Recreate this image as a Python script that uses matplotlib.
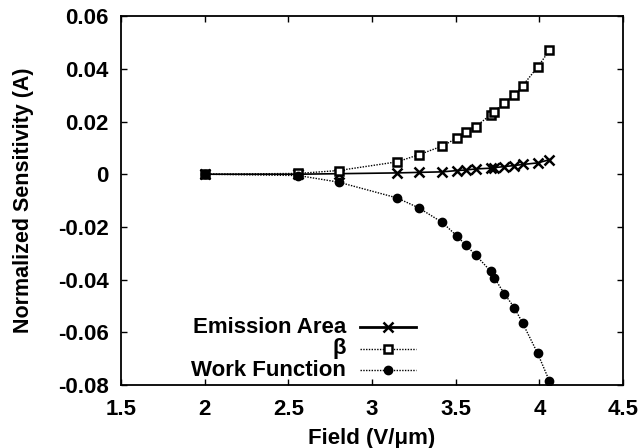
import matplotlib
matplotlib.use("Agg")
from matplotlib import pyplot as plt
from matplotlib.lines import Line2D

# field values (V/um)
field = [2.0, 2.56, 2.80, 3.15, 3.28, 3.42, 3.51, 3.56, 3.62, 3.71, 3.73, 3.79, 3.85, 3.90, 3.99, 4.06]

emission_area = [0.0, 0.0, 0.0002, 0.0005, 0.0007, 0.0009, 0.0014, 0.0016, 0.0020,
                 0.0023, 0.0025, 0.0029, 0.0033, 0.0037, 0.0043, 0.0055]
beta = [0.0, 0.0003, 0.0014, 0.0047, 0.0074, 0.0107, 0.0138, 0.0160, 0.0181,
        0.0226, 0.0238, 0.0270, 0.0300, 0.0336, 0.0407, 0.0470]
work_function = [0.0, -0.0005, -0.0030, -0.0090, -0.0128, -0.0183, -0.0236, -0.0269, -0.0307,
                 -0.0369, -0.0392, -0.0453, -0.0506, -0.0565, -0.0680, -0.0785]

x_ticks = [1.5, 2, 2.5, 3, 3.5, 4, 4.5]
x_tick_labels = ["1.5", "2", "2.5", "3", "3.5", "4", "4.5"]
y_ticks = [-0.08, -0.06, -0.04, -0.02, 0, 0.02, 0.04, 0.06]
y_tick_labels = ["-0.08", "-0.06", "-0.04", "-0.02", "0", "0.02", "0.04", "0.06"]

plt.rcParams['font.family'] = ['Liberation Sans', 'DejaVu Sans']
plt.rcParams['font.weight'] = 'bold'

fig = plt.figure(figsize=(6.39, 4.48), dpi=100)
ax = fig.add_axes([0.1894, 0.1406, 0.7856, 0.8234])

ax.plot(field, emission_area, color='black', lw=1.2, ls='-', marker='x',
        ms=6.5, mew=1.8, zorder=3)
ax.plot(field, beta, color='black', lw=1.0, ls=(0, (1, 1)), marker='s',
        ms=6, mfc='white', mec='black', mew=1.8, zorder=3)
ax.plot(field, work_function, color='black', lw=1.0, ls=(0, (1, 1)), marker='o',
        ms=6, mfc='black', mec='black', zorder=3)

ax.set_xlim(1.5, 4.5)
ax.set_ylim(-0.08, 0.06)
ax.set_xticks(x_ticks)
ax.set_xticklabels(x_tick_labels)
ax.set_yticks(y_ticks)
ax.set_yticklabels(y_tick_labels)
ax.tick_params(direction='in', length=4, width=1, top=True, right=True,
               labelsize=16, pad=9)
ax.tick_params(axis='x', pad=10)
for sp in ax.spines.values():
    sp.set_linewidth(1.3)

ax.set_xlabel('Field (V/μm)', fontsize=16, fontweight='bold', labelpad=6)
ax.set_ylabel('Normalized Sensitivity (A)', fontsize=15.5, fontweight='bold', labelpad=17)

# legend drawn by hand: right-aligned text, sample line to the right
legend_labels = ['Emission Area', 'β', 'Work Function']
styles = [
    dict(ls='-', lw=2.0, marker='x', ms=6.5, mew=1.8, mfc='black'),
    dict(ls=(0, (1, 1)), lw=1.0, marker='s', ms=6, mew=1.8, mfc='white'),
    dict(ls=(0, (1, 1)), lw=1.0, marker='o', ms=6, mew=1.0, mfc='black'),
]
inv = ax.transAxes.inverted()
for i, (lab, st) in enumerate(zip(legend_labels, styles)):
    ypix = 448 - (327 + i * 21.7)
    x_text, yy = inv.transform((346, ypix))
    x0, _ = inv.transform((360, ypix))
    x1, _ = inv.transform((416, ypix))
    ax.text(x_text, yy, lab, transform=ax.transAxes, ha='right', va='center',
            fontsize=16, fontweight='bold')
    ln = Line2D([x0, (x0 + x1) / 2, x1], [yy, yy, yy], transform=ax.transAxes,
                color='black', mec='black', markevery=[1], **st)
    ax.add_line(ln)

fig.savefig('out.png', dpi=100)
